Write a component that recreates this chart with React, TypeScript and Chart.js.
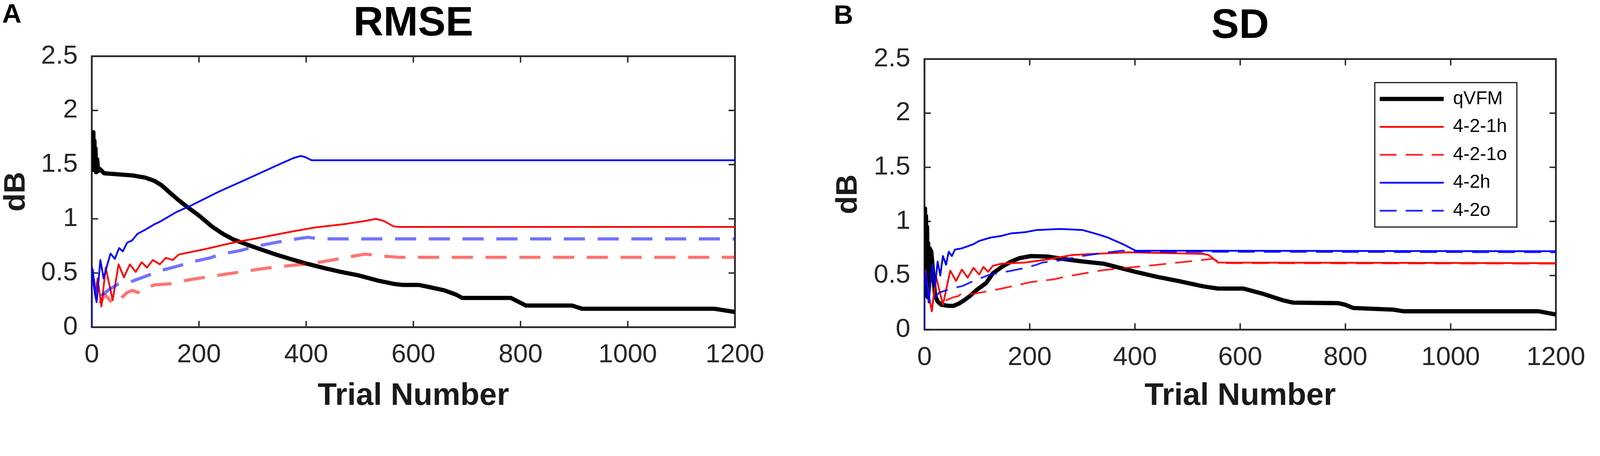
import { useEffect, useRef, useState } from "react"
import { Chart, registerables } from "chart.js"

Chart.register(...registerables)

const FONT = "'Liberation Sans', Arial, Helvetica, sans-serif"
const AXIS_COLOR = "#262626"
const PAGE_W = 4550
const PAGE_H = 1168

// shared axes
const trialTicks = [0, 200, 400, 600, 800, 1000, 1200]
const dbTicks = [0, 0.5, 1, 1.5, 2, 2.5]
const seriesLabels = ["qVFM", "4-2-1h", "4-2-1o", "4-2h", "4-2o"]

// ---- panel A : RMSE ----
const rmseQvfmTrials = [0, 1, 2, 3, 4, 5, 6, 7, 8, 10, 12, 15, 23, 50, 76, 100, 117, 130, 146, 160, 178, 200, 224, 245, 264, 291, 320, 344, 370, 398, 430, 465, 496, 534, 563, 580, 610, 630, 658, 680, 691, 782, 790, 810, 896, 915, 1162, 1200]
const rmseQvfm = [1.45, 1.78, 1.5, 1.8, 1.45, 1.72, 1.47, 1.65, 1.43, 1.55, 1.44, 1.46, 1.42, 1.41, 1.4, 1.38, 1.35, 1.31, 1.24, 1.18, 1.11, 1.03, 0.93, 0.86, 0.81, 0.76, 0.71, 0.67, 0.63, 0.59, 0.55, 0.51, 0.48, 0.43, 0.4, 0.39, 0.39, 0.37, 0.34, 0.3, 0.27, 0.27, 0.25, 0.2, 0.2, 0.17, 0.17, 0.14]

const rmse421hTrials = [2, 6, 11, 18, 26, 39, 50, 60, 71, 82, 93, 103, 114, 127, 138, 151, 162, 211, 264, 318, 371, 416, 470, 510, 530, 545, 563, 575, 1200]
const rmse421h = [0.48, 0.3, 0.45, 0.19, 0.55, 0.25, 0.58, 0.46, 0.58, 0.51, 0.6, 0.55, 0.62, 0.58, 0.64, 0.62, 0.67, 0.72, 0.78, 0.83, 0.88, 0.92, 0.95, 0.98, 1.0, 0.98, 0.93, 0.925, 0.925]

const rmse421oTrials = [15, 25, 35, 45, 55, 66, 76, 86, 93, 117, 146, 184, 211, 251, 318, 371, 414, 460, 510, 534, 572, 1200]
const rmse421o = [0.22, 0.3, 0.24, 0.3, 0.27, 0.32, 0.34, 0.32, 0.35, 0.39, 0.4, 0.44, 0.46, 0.49, 0.54, 0.57, 0.59, 0.63, 0.675, 0.66, 0.645, 0.645]

const rmse42hTrials = [0, 0, 2, 5, 9, 13, 16, 22, 28, 35, 43, 51, 58, 66, 75, 85, 100, 117, 126, 157, 184, 237, 291, 344, 376, 390, 398, 410, 1200]
const rmse42h = [0, 0.55, 0.53, 0.35, 0.23, 0.45, 0.62, 0.45, 0.56, 0.68, 0.63, 0.73, 0.7, 0.78, 0.8, 0.86, 0.9, 0.95, 0.97, 1.06, 1.12, 1.25, 1.37, 1.49, 1.56, 1.58, 1.57, 1.54, 1.54]

const rmse42oTrials = [3, 10, 20, 33, 50, 73, 106, 127, 165, 184, 221, 242, 280, 304, 342, 363, 403, 425, 1200]
const rmse42o = [0.45, 0.22, 0.3, 0.35, 0.4, 0.42, 0.48, 0.52, 0.57, 0.6, 0.64, 0.675, 0.71, 0.745, 0.78, 0.8, 0.83, 0.815, 0.815]

// ---- panel B : SD ----
const sdQvfmTrials = [0, 1, 2, 3, 4, 5, 6, 7, 8, 10, 13, 16, 20, 25, 32, 45, 55, 65, 75, 86, 100, 117, 130, 147, 165, 180, 202, 235, 268, 300, 340, 400, 440, 482, 530, 558, 606, 644, 682, 700, 786, 800, 815, 891, 910, 1167, 1200]
const sdQvfm = [0.3, 1.12, 0.4, 1.05, 0.35, 0.95, 0.3, 0.8, 0.45, 0.75, 0.72, 0.55, 0.32, 0.26, 0.23, 0.22, 0.22, 0.24, 0.27, 0.31, 0.37, 0.43, 0.52, 0.58, 0.63, 0.66, 0.68, 0.675, 0.65, 0.63, 0.61, 0.535, 0.49, 0.45, 0.4, 0.38, 0.38, 0.33, 0.27, 0.25, 0.245, 0.23, 0.2, 0.185, 0.17, 0.17, 0.14]

const sd421hTrials = [2, 7, 14, 22, 35, 49, 60, 71, 82, 93, 104, 112, 121, 130, 147, 191, 235, 282, 387, 530, 540, 558, 1200]
const sd421h = [0.55, 0.35, 0.17, 0.49, 0.23, 0.545, 0.45, 0.555, 0.48, 0.57, 0.51, 0.58, 0.535, 0.59, 0.61, 0.62, 0.65, 0.69, 0.715, 0.7, 0.69, 0.62, 0.615]

const sd421oTrials = [40, 55, 64, 72, 93, 125, 147, 180, 202, 246, 268, 339, 434, 530, 548, 565, 1200]
const sd421o = [0.27, 0.3, 0.31, 0.34, 0.33, 0.36, 0.38, 0.415, 0.44, 0.465, 0.49, 0.55, 0.595, 0.645, 0.655, 0.615, 0.61]

const sd42hTrials = [0, 0, 3, 8, 15, 20, 25, 30, 35, 41, 46, 52, 58, 70, 82, 93, 104, 125, 145, 165, 191, 213, 257, 283, 301, 330, 349, 377, 401, 1200]
const sd42h = [0, 0.55, 0.5, 0.25, 0.6, 0.4, 0.63, 0.5, 0.68, 0.6, 0.72, 0.68, 0.74, 0.75, 0.77, 0.79, 0.82, 0.85, 0.865, 0.89, 0.9, 0.92, 0.93, 0.925, 0.92, 0.88, 0.85, 0.79, 0.73, 0.725]

const sd42oTrials = [3, 9, 16, 27, 45, 73, 93, 125, 160, 191, 213, 224, 257, 300, 339, 377, 400, 1200]
const sd42o = [0.45, 0.28, 0.26, 0.34, 0.37, 0.405, 0.45, 0.51, 0.54, 0.57, 0.6, 0.62, 0.64, 0.68, 0.71, 0.73, 0.72, 0.715]

const toPoints = (xs: number[], ys: number[]) => xs.map((x, i) => ({ x, y: ys[i] }))

// matlab style box with inward ticks on all four sides
const axesBox = {
  id: "axesBox",
  beforeDatasetsDraw(chart: any) {
    const { ctx, chartArea } = chart
    const { left, right, top, bottom } = chartArea
    const xs = chart.scales.x
    const ys = chart.scales.y
    const len = 18
    ctx.save()
    ctx.strokeStyle = AXIS_COLOR
    ctx.lineWidth = 4
    ctx.beginPath()
    xs.ticks.forEach((t: any) => {
      const px = xs.getPixelForValue(t.value)
      ctx.moveTo(px, bottom)
      ctx.lineTo(px, bottom - len)
      ctx.moveTo(px, top)
      ctx.lineTo(px, top + len)
    })
    ys.ticks.forEach((t: any) => {
      const py = ys.getPixelForValue(t.value)
      ctx.moveTo(left, py)
      ctx.lineTo(left + len, py)
      ctx.moveTo(right, py)
      ctx.lineTo(right - len, py)
    })
    ctx.stroke()
    ctx.lineWidth = 5
    ctx.strokeRect(left, top, right - left, bottom - top)
    ctx.restore()
  },
}

// move the legend into the upper right of the plot and put a frame round it
const LEGEND_W = 404
const LEGEND_H = 411
const legendFrame = {
  id: "legendFrame",
  afterLayout(chart: any) {
    const lg = chart.legend
    if (!lg || !lg.options.display) return
    const ca = chart.chartArea
    const frameLeft = ca.right - 111 - LEGEND_W
    const frameTop = ca.top + 67
    lg.left = frameLeft - 12.5
    lg.top = frameTop - 6.5
    lg.right = frameLeft + LEGEND_W
    lg.bottom = lg.top + 460
    lg.width = lg.right - lg.left
    lg.height = 460
  },
  afterDraw(chart: any) {
    const lg = chart.legend
    if (!lg || !lg.options.display) return
    const { ctx } = chart
    ctx.save()
    ctx.strokeStyle = AXIS_COLOR
    ctx.lineWidth = 3.5
    ctx.strokeRect(lg.left + 12.5, lg.top + 6.5, LEGEND_W, LEGEND_H)
    ctx.restore()
  },
}

type PanelSpec = {
  title: string
  series: number[][][]
  dashColorAlpha: number
  dashWidth: number
  dash: number[]
  yAxisWidth: number
  xAxisHeight: number
  padRight: number
  titlePad: { top: number; bottom: number }
  yTitlePadTop: number
  legend: boolean
}

function makeConfig(p: PanelSpec, pixelRatio: number): any {
  const styles = [
    { color: "#000000", width: 12, dash: [], order: 5 },
    { color: "#ff0000", width: 5, dash: [], order: 4 },
    { color: `rgba(255,0,0,${p.dashColorAlpha})`, width: p.dashWidth, dash: p.dash, order: 3 },
    { color: "#0000ff", width: 5, dash: [], order: 2 },
    { color: `rgba(0,0,255,${p.dashColorAlpha})`, width: p.dashWidth, dash: p.dash, order: 1 },
  ]
  const datasets = p.series.map(([xs, ys], i) => ({
    label: seriesLabels[i],
    data: toPoints(xs, ys),
    borderColor: styles[i].color,
    backgroundColor: styles[i].color,
    borderWidth: styles[i].width,
    borderDash: styles[i].dash,
    borderJoinStyle: "round",
    order: styles[i].order,
    pointRadius: 0,
    tension: 0,
    fill: false,
  }))

  return {
    type: "line",
    data: { datasets },
    options: {
      animation: false,
      responsive: false,
      devicePixelRatio: pixelRatio,
      events: [],
      layout: { padding: { left: 0, top: 0, right: p.padRight, bottom: 0 } },
      scales: {
        x: {
          type: "linear",
          min: 0,
          max: 1200,
          afterBuildTicks: (s: any) => {
            s.ticks = trialTicks.map((value) => ({ value }))
          },
          afterFit: (s: any) => {
            s.height = p.xAxisHeight
          },
          grid: { display: false, drawTicks: false },
          border: { display: false },
          ticks: {
            color: AXIS_COLOR,
            font: { family: FONT, size: 75, lineHeight: 1 },
            padding: 42,
            maxRotation: 0,
            autoSkip: false,
            callback: (v: any) => String(v),
          },
          title: {
            display: true,
            text: "Trial Number",
            color: "#1a1a1a",
            font: { family: FONT, size: 89, weight: "bold", lineHeight: 0.9 },
            padding: { top: 0, bottom: 1 },
          },
        },
        y: {
          type: "linear",
          min: 0,
          max: 2.5,
          afterBuildTicks: (s: any) => {
            s.ticks = dbTicks.map((value) => ({ value }))
          },
          afterFit: (s: any) => {
            s.width = p.yAxisWidth
          },
          grid: { display: false, drawTicks: false },
          border: { display: false },
          ticks: {
            color: AXIS_COLOR,
            font: { family: FONT, size: 75, lineHeight: 1 },
            padding: 40,
            autoSkip: false,
            callback: (v: any) => String(v),
          },
          title: {
            display: true,
            text: "dB",
            color: "#1a1a1a",
            font: { family: FONT, size: 85, weight: "bold", lineHeight: 1 },
            padding: { top: p.yTitlePadTop, bottom: 0 },
          },
        },
      },
      plugins: {
        title: {
          display: true,
          text: p.title,
          color: "#000000",
          fullSize: false,
          font: { family: FONT, size: 118, weight: "bold", lineHeight: 1 },
          padding: p.titlePad,
        },
        legend: {
          display: p.legend,
          position: "chartArea",
          align: "start",
          labels: {
            color: "#000000",
            font: { family: FONT, size: 53 },
            padding: 26.5,
            usePointStyle: true,
            pointStyle: "line",
            pointStyleWidth: 182,
            // point style drops the dash pattern, so take it back from the dataset
            generateLabels: (chart: any) =>
              Chart.defaults.plugins.legend.labels.generateLabels(chart).map((item: any) => ({
                ...item,
                lineDash: chart.data.datasets[item.datasetIndex].borderDash,
              })),
            sort: (a: any, b: any) => a.datasetIndex - b.datasetIndex,
          },
        },
        tooltip: { enabled: false },
      },
    },
    plugins: [axesBox, legendFrame],
  }
}

const rmsePanel: PanelSpec = {
  title: "RMSE",
  series: [
    [rmseQvfmTrials, rmseQvfm],
    [rmse421hTrials, rmse421h],
    [rmse421oTrials, rmse421o],
    [rmse42hTrials, rmse42h],
    [rmse42oTrials, rmse42o],
  ],
  dashColorAlpha: 0.55,
  dashWidth: 9,
  dash: [60, 36],
  yAxisWidth: 261,
  xAxisHeight: 237,
  padRight: 185,
  titlePad: { top: 9, bottom: 33 },
  yTitlePadTop: 4.5,
  legend: false,
}

const sdPanel: PanelSpec = {
  title: "SD",
  series: [
    [sdQvfmTrials, sdQvfm],
    [sd421hTrials, sd421h],
    [sd421oTrials, sd421o],
    [sd42hTrials, sd42h],
    [sd42oTrials, sd42o],
  ],
  dashColorAlpha: 0.85,
  dashWidth: 5,
  dash: [48, 26],
  yAxisWidth: 354,
  xAxisHeight: 230,
  padRight: 93,
  titlePad: { top: 16, bottom: 34 },
  yTitlePadTop: 95.5,
  legend: true,
}

function Panel({ spec, left, pixelRatio }: { spec: PanelSpec; left: number; pixelRatio: number }) {
  const canvasRef = useRef<HTMLCanvasElement | null>(null)

  useEffect(() => {
    if (!canvasRef.current) return
    const chart = new Chart(canvasRef.current, makeConfig(spec, pixelRatio))
    return () => {
      chart.destroy()
    }
  }, [spec, pixelRatio])

  return (
    <canvas
      ref={canvasRef}
      width={2275}
      height={1168}
      style={{ position: "absolute", left, top: 0, width: 2275, height: 1168 }}
    />
  )
}

const panelLetter = {
  position: "absolute" as const,
  fontFamily: FONT,
  fontWeight: "bold" as const,
  fontSize: 76,
  lineHeight: "76px",
  color: "#000",
}

export default function App() {
  // the figure is laid out in screenshot pixels; fit it to whatever the viewport really is
  const [scale] = useState(() => (typeof window !== "undefined" ? window.innerWidth / PAGE_W : 1))
  const pixelRatio = (typeof window !== "undefined" ? window.devicePixelRatio || 1 : 1) * scale

  useEffect(() => {
    document.body.style.margin = "0"
    document.body.style.overflow = "hidden"
  }, [])

  return (
    <div
      style={{
        position: "absolute",
        left: 0,
        top: 0,
        width: PAGE_W,
        height: PAGE_H,
        background: "#fff",
        overflow: "hidden",
        transform: `scale(${scale})`,
        transformOrigin: "0 0",
      }}
    >
      <Panel spec={rmsePanel} left={0} pixelRatio={pixelRatio} />
      <Panel spec={sdPanel} left={2275} pixelRatio={pixelRatio} />
      <div style={{ ...panelLetter, left: 6, top: 0 }}>A</div>
      <div style={{ ...panelLetter, left: 2371, top: 4 }}>B</div>
    </div>
  )
}
